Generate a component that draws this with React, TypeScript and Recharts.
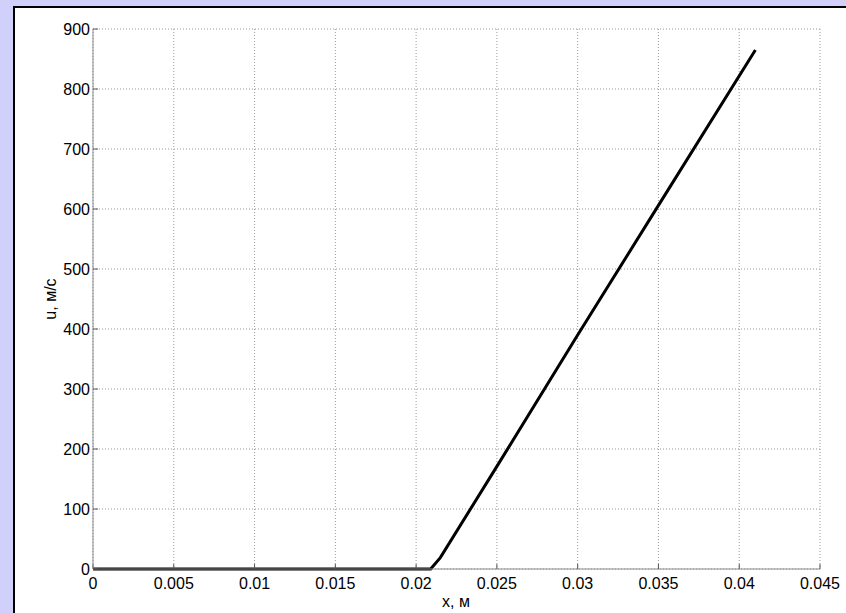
import { LineChart, Line, XAxis, YAxis, CartesianGrid, Label } from "recharts";

const X_VALUES = [0, 0.005, 0.01, 0.015, 0.02, 0.0209, 0.0215, 0.025, 0.03, 0.035, 0.041];
const U_VALUES = [0, 0, 0, 0, 0, 0, 19, 171, 390, 606, 865];
const X_TICKS = [0, 0.005, 0.01, 0.015, 0.02, 0.025, 0.03, 0.035, 0.04, 0.045];
const Y_TICKS = [0, 100, 200, 300, 400, 500, 600, 700, 800, 900];

const data = X_VALUES.map((x, i) => ({ x, u: U_VALUES[i] }));

const FONT = "'Liberation Sans', Arial, sans-serif";
const AXIS = "#8c8c8c";
const TICK = "#555";

export default function App() {
  return (
    <div style={{ position: "absolute", left: 0, top: 0, width: 846, height: 613, overflow: "hidden", background: "#d0d0fa" }}>
      <div
        style={{
          position: "absolute",
          left: 13,
          top: 6,
          width: 860,
          height: 640,
          background: "#fff",
          border: "2px solid #000",
        }}
      />
      <div style={{ position: "absolute", left: 0, top: 0 }}>
        <LineChart
          width={846}
          height={613}
          data={data}
          margin={{ top: 29, right: 26, bottom: 0, left: 0 }}
          style={{ fontFamily: FONT }}
        >
          <CartesianGrid stroke="#9a9a9a" strokeDasharray="1 2" />
          <XAxis
            dataKey="x"
            type="number"
            domain={[0, 0.045]}
            ticks={X_TICKS}
            height={44}
            axisLine={{ stroke: AXIS }}
            tickLine={{ stroke: TICK }}
            tickSize={-5}
            tickMargin={14}
            tick={{ fill: "#000", fontSize: 16 }}
            interval={0}
          >
            <Label
              content={() => (
                <text x={456} y={601} textAnchor="middle" dominantBaseline="central" fontSize={16} fill="#000" fontFamily={FONT}>
                  x, м
                </text>
              )}
            />
          </XAxis>
          <XAxis
            xAxisId="top"
            orientation="top"
            type="number"
            domain={[0, 0.045]}
            ticks={X_TICKS}
            height={0}
            axisLine={{ stroke: AXIS }}
            tickLine={{ stroke: TICK }}
            tickSize={-5}
            tickFormatter={() => ""}
            interval={0}
          />
          <YAxis
            type="number"
            domain={[0, 900]}
            ticks={Y_TICKS}
            width={93}
            axisLine={{ stroke: AXIS }}
            tickLine={{ stroke: TICK }}
            tickSize={-5}
            tickMargin={8}
            tick={{ fill: "#000", fontSize: 16 }}
            interval={0}
          >
            <Label
              content={() => (
                <text
                  x={50}
                  y={299}
                  textAnchor="middle"
                  dominantBaseline="central"
                  fontSize={16}
                  fill="#000"
                  fontFamily={FONT}
                  transform="rotate(-90 50 299)"
                >
                  u, м/с
                </text>
              )}
            />
          </YAxis>
          <YAxis
            yAxisId="right"
            orientation="right"
            type="number"
            domain={[0, 900]}
            ticks={Y_TICKS}
            width={0}
            axisLine={{ stroke: AXIS }}
            tickLine={{ stroke: TICK }}
            tickSize={-5}
            tickFormatter={() => ""}
            interval={0}
          />
          <Line
            type="linear"
            dataKey="u"
            stroke="#000"
            strokeWidth={3}
            dot={false}
            isAnimationActive={false}
          />
        </LineChart>
      </div>
    </div>
  );
}
